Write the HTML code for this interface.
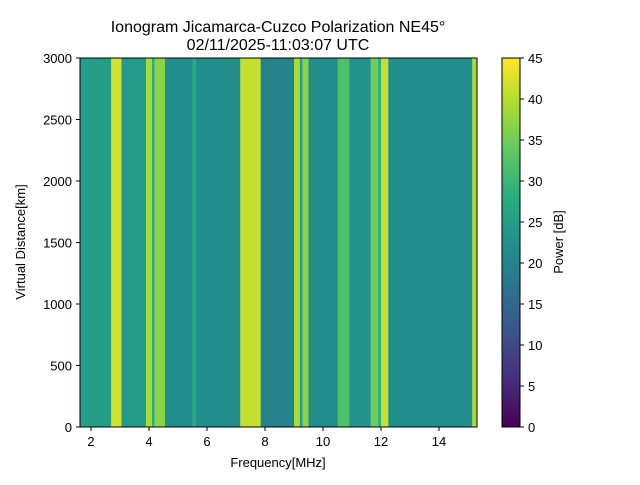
<!DOCTYPE html>
<html><head><meta charset="utf-8"><style>
body{margin:0;background:#fff;font-family:"Liberation Sans",sans-serif;}
</style></head><body>
<svg id="c" width="640" height="480" xmlns="http://www.w3.org/2000/svg" style="font-family:'Liberation Sans',sans-serif">
<defs><linearGradient id="vir" x1="0" y1="1" x2="0" y2="0">
<stop offset="0" stop-color="#440154"/><stop offset="0.125" stop-color="#472d7b"/><stop offset="0.25" stop-color="#3b528b"/><stop offset="0.375" stop-color="#2c728e"/><stop offset="0.5" stop-color="#21918c"/><stop offset="0.625" stop-color="#28ae80"/><stop offset="0.75" stop-color="#5ec962"/><stop offset="0.875" stop-color="#addc30"/><stop offset="1" stop-color="#fde725"/></linearGradient></defs>
<text x="278" y="32" text-anchor="middle" font-size="16">Ionogram Jicamarca-Cuzco Polarization NE45°</text>
<text x="278" y="50" text-anchor="middle" font-size="16">02/11/2025-11:03:07 UTC</text>
<g id="plot"></g>
<rect x="80" y="58" width="397" height="369" fill="none" stroke="#000" stroke-width="1"/>
<g id="axes" font-size="13"></g>
<text x="278" y="467" text-anchor="middle" font-size="13">Frequency[MHz]</text>
<text transform="translate(25,242) rotate(-90)" text-anchor="middle" font-size="13">Virtual Distance[km]</text>
<rect x="502" y="58" width="18" height="369" fill="url(#vir)" stroke="#000" stroke-width="1"/>
<g id="cb" font-size="13"></g>
<text transform="translate(563,242) rotate(-90)" text-anchor="middle" font-size="13">Power [dB]</text>
</svg>
<script>
const bandStarts=[1.6,2.7,3.05,3.9,4.1,4.2,4.55,5.5,5.6,7.15,7.85,9.0,9.2,9.3,9.5,10.5,10.9,11.65,11.9,12.0,12.25,15.15];
const bandEnds  =[2.7,3.05,3.9,4.1,4.2,4.55,5.5,5.6,7.15,7.85,9.0,9.2,9.3,9.5,10.5,10.9,11.65,11.9,12.0,12.25,15.15,15.3];
const bandPower =[25,42,24,39,28,37,22,27,22,41,20,39,25,37,22,32,23,35,28,41,22,39];
const xTicks=[2,4,6,8,10,12,14];
const yTicks=[0,500,1000,1500,2000,2500,3000];
const cbTicks=[0,5,10,15,20,25,30,35,40,45];
const xs=f=>91+(f-2)*29, ys=d=>427-d/3000*369, cs=v=>427-v/45*369;
const vir=["#440154","#472d7b","#3b528b","#2c728e","#21918c","#28ae80","#5ec962","#addc30","#fde725"];
function col(v){let t=Math.max(0,Math.min(1,v/45))*8,i=Math.min(7,Math.floor(t)),f=t-i;
const a=vir[i],b=vir[i+1],p=(s,k)=>parseInt(s.substr(k,2),16);
return "rgb("+[1,3,5].map(k=>Math.round(p(a,k)+(p(b,k)-p(a,k))*f)).join(",")+")";}
const NS="http://www.w3.org/2000/svg";
function mk(t,a,parent){const e=document.createElementNS(NS,t);for(const k in a)e.setAttribute(k,a[k]);document.getElementById(parent).appendChild(e);return e;}
for(let i=0;i<bandPower.length;i++){
 const x0=Math.max(80,xs(bandStarts[i])),x1=Math.min(477,xs(bandEnds[i]));
 const r=mk("rect",{x:x0,y:58,width:x1-x0,height:369,fill:col(bandPower[i])},"plot");
 
 
}
xTicks.forEach(v=>{const x=xs(v);
 const l=mk("line",{x1:x,x2:x,y1:427,y2:431,stroke:"#000"},"axes");
 
 
 const t=mk("text",{x:x,y:446,"text-anchor":"middle"},"axes");t.textContent=v;
 
 });
yTicks.forEach(v=>{const y=ys(v);
 const l=mk("line",{x1:76,x2:80,y1:y,y2:y,stroke:"#000"},"axes");
 
 
 const t=mk("text",{x:72,y:y+5,"text-anchor":"end"},"axes");t.textContent=v;
 
 });
cbTicks.forEach(v=>{const y=cs(v);
 const l=mk("line",{x1:520,x2:524,y1:y,y2:y,stroke:"#000"},"cb");
 
 
 const t=mk("text",{x:528,y:y+5},"cb");t.textContent=v;
 
 });
</script>
</body></html>
